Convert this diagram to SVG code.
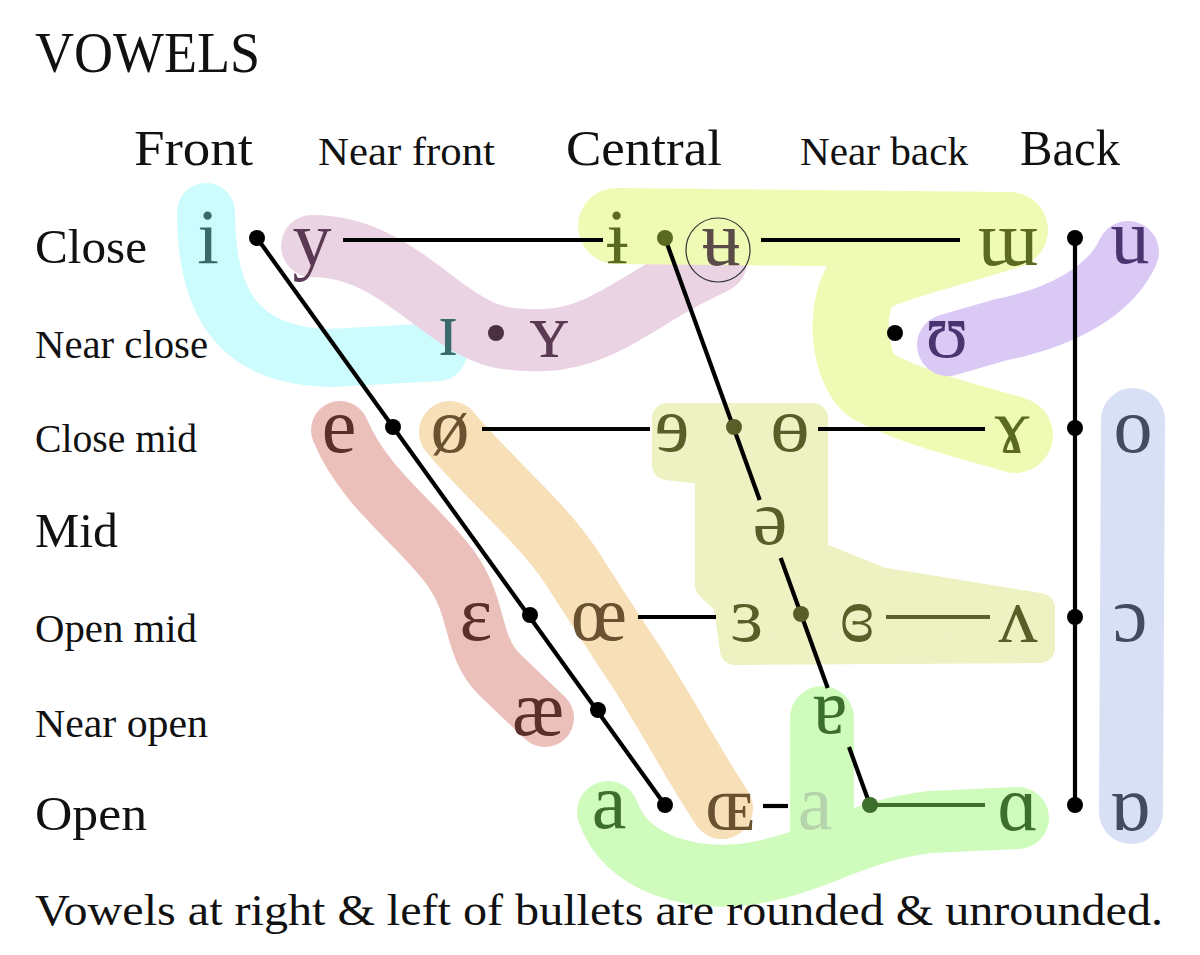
<svg xmlns="http://www.w3.org/2000/svg" width="1200" height="955" viewBox="0 0 1200 955">
<style>
  text { font-family: "Liberation Serif", "DejaVu Serif", serif; fill: #111; }
  .title { font-size: 56px; }
  .hd { font-size: 50px; }
  .hs { font-size: 39px; }
  .rl { font-size: 48px; }
  .rs { font-size: 40px; }
  .foot { font-size: 45px; }
  .v { font-size: 78px; text-anchor: middle; }
  .hl { fill: none; stroke-linecap: round; stroke-linejoin: round; }
  .ln { stroke: #000; stroke-width: 4.2; fill: none; stroke-linecap: butt; }
  .dot { fill: #000; }
  .teal { fill: #3a6a6a; }
  .pk { fill: #5a3a52; }
  .lime { fill: #5a6a20; }
  .pu { fill: #4a3570; }
  .sl { fill: #444b60; }
  .rd { fill: #5a2e2a; }
  .br { fill: #6a5230; }
  .kh { fill: #585e28; }
  .gr { fill: #3c6e2c; }
</style>

<g id="highlights">
  <path class="hl" stroke="#ccfcfd" stroke-width="58" d="M206,212 C206,300 235,356 330,358 L438,352"/>
  <path class="hl" stroke="#ead3e3" stroke-width="62" d="M312,246 C365,246 400,275 440,305 C480,335 500,342 545,340 C600,338 640,300 690,275 L716,262"/>
  <path class="hl" stroke="#effbb5" stroke-width="76" d="M616,226 L1010,230 C950,250 890,262 865,278 C845,300 845,360 870,385 C920,412 985,425 1015,435"/>
  <path class="hl" stroke="#dac9f5" stroke-width="62" d="M1128,252 C1110,292 1060,318 1000,330 L948,345"/>
  <path class="hl" stroke="#d8e0f6" stroke-width="64" d="M1133,420 L1131,812"/>
  <path class="hl" stroke="#ebbfba" stroke-width="58" d="M340,430 C365,490 420,525 452,570 C480,610 470,645 500,675 L545,718"/>
  <polygon fill="#eef1c2" stroke="#eef1c2" stroke-width="30" stroke-linejoin="round" points="667,418 813,418 813,555 880,582 1040,608 1040,648 735,650 728,602 710,585 710,470 667,465"/>
  <path class="hl" stroke="#cffcbd" stroke-width="62" d="M608,812 C625,862 690,885 760,872 C820,860 860,830 930,822 L1018,818"/>
  <path class="hl" stroke="#cffcbd" stroke-width="64" d="M822,718 L822,830"/>
  <path class="hl" stroke="#f7dfb8" stroke-width="62" d="M450,432 C485,475 540,520 570,565 L625,650 C660,700 690,760 722,808"/>
</g>

<g id="labels">
  <text class="title" x="35" y="72" textLength="225" lengthAdjust="spacingAndGlyphs">VOWELS</text>
  <text class="hd" x="134" y="165" textLength="119" lengthAdjust="spacingAndGlyphs">Front</text>
  <text class="hs" x="318" y="165" textLength="177" lengthAdjust="spacingAndGlyphs">Near front</text>
  <text class="hd" x="566" y="165" textLength="156" lengthAdjust="spacingAndGlyphs">Central</text>
  <text class="hs" x="800" y="165" textLength="168" lengthAdjust="spacingAndGlyphs">Near back</text>
  <text class="hd" x="1020" y="165" textLength="100" lengthAdjust="spacingAndGlyphs">Back</text>
  <text class="rl" x="35" y="263" textLength="112" lengthAdjust="spacingAndGlyphs">Close</text>
  <text class="rs" x="35" y="358" textLength="173" lengthAdjust="spacingAndGlyphs">Near close</text>
  <text class="rs" x="35" y="452" textLength="162" lengthAdjust="spacingAndGlyphs">Close mid</text>
  <text class="rl" x="35" y="547" textLength="83" lengthAdjust="spacingAndGlyphs">Mid</text>
  <text class="rs" x="35" y="642" textLength="162" lengthAdjust="spacingAndGlyphs">Open mid</text>
  <text class="rs" x="35" y="737" textLength="173" lengthAdjust="spacingAndGlyphs">Near open</text>
  <text class="rl" x="35" y="830" textLength="112" lengthAdjust="spacingAndGlyphs">Open</text>
  <text class="foot" x="35" y="925" textLength="1128" lengthAdjust="spacingAndGlyphs">Vowels at right &amp; left of bullets are rounded &amp; unrounded.</text>
</g>

<g id="connectors">
  <line class="ln" x1="257" y1="238" x2="665" y2="805"/>
  <line class="ln" x1="665" y1="238" x2="759.7" y2="500"/>
  <line class="ln" x1="780.7" y1="558" x2="827.7" y2="688"/>
  <line class="ln" x1="849" y1="747" x2="870" y2="805"/>
  <line class="ln" x1="1075" y1="238" x2="1075" y2="805"/>
  <line class="ln" x1="343" y1="240" x2="603" y2="240"/>
  <line class="ln" x1="761" y1="240" x2="960" y2="240"/>
  <line class="ln" x1="482" y1="429" x2="650" y2="429"/>
  <line class="ln" x1="818" y1="429" x2="985" y2="429"/>
  <line class="ln" x1="638" y1="617" x2="716" y2="617"/>
  <line class="ln" x1="886" y1="617" x2="990" y2="617" style="stroke:#5a6030"/>
  <line class="ln" x1="763" y1="806" x2="788" y2="806"/>
  <line class="ln" x1="870" y1="805" x2="985" y2="805" style="stroke:#3c6e2c"/>
</g>

<g id="bullets">
  <circle class="dot" cx="257" cy="238" r="8"/>
  <circle class="dot" cx="665" cy="238" r="8" style="fill:#5a6a20"/>
  <circle class="dot" cx="1075" cy="238" r="8"/>
  <circle class="dot" cx="496" cy="333" r="8" style="fill:#4a3040"/>
  <circle class="dot" cx="895" cy="333" r="8"/>
  <circle class="dot" cx="393" cy="427" r="8"/>
  <circle class="dot" cx="734" cy="427" r="8" style="fill:#585e28"/>
  <circle class="dot" cx="1075" cy="428" r="8"/>
  <circle class="dot" cx="530" cy="615" r="8"/>
  <circle class="dot" cx="801" cy="614" r="8" style="fill:#585e28"/>
  <circle class="dot" cx="1075" cy="617" r="8"/>
  <circle class="dot" cx="598" cy="710" r="8"/>
  <circle class="dot" cx="665" cy="805" r="8"/>
  <circle class="dot" cx="870" cy="805" r="8" style="fill:#3c6e2c"/>
  <circle class="dot" cx="1075" cy="805" r="8"/>
</g>

<g id="v-i"><text class="v teal" x="208" y="263">i</text></g>
<g id="v-y"><text class="v pk" x="312" y="265">y</text></g>
<g id="v-i-bar"><text class="v lime" x="617" y="263">ɨ</text></g>
<g id="v-u-bar"><text class="v" x="721" y="265" style="fill:#5a4a48">ʉ</text><circle cx="718" cy="250" r="32" fill="none" stroke="#333" stroke-width="1.2"/></g>
<g id="v-turned-m"><text class="v lime" x="1008" y="265">ɯ</text></g>
<g id="v-u"><text class="v pu" x="1130" y="263">u</text></g>
<g id="v-small-i"><text class="v teal" x="448" y="355">ɪ</text></g>
<g id="v-small-y"><text class="v pk" x="549" y="357">ʏ</text></g>
<g id="v-upsilon"><text class="v pu" x="947" y="357">ʊ</text></g>
<g id="v-e"><text class="v rd" x="339" y="452">e</text></g>
<g id="v-o-slash"><text class="v br" x="450" y="452">ø</text></g>
<g id="v-rev-e"><text class="v kh" x="672" y="451">ɘ</text></g>
<g id="v-barred-o"><text class="v kh" x="790" y="451">ɵ</text></g>
<g id="v-ram"><text class="v lime" x="1012" y="452">ɤ</text></g>
<g id="v-o"><text class="v sl" x="1133" y="452">o</text></g>
<g id="v-schwa"><text class="v kh" x="770" y="544">ə</text></g>
<g id="v-epsilon"><text class="v rd" x="476" y="640">ɛ</text></g>
<g id="v-oe"><text class="v br" x="599" y="640">œ</text></g>
<g id="v-rev-epsilon"><text class="v kh" x="747" y="641">ɜ</text></g>
<g id="v-closed-rev-epsilon"><text class="v kh" x="857" y="641">ɞ</text></g>
<g id="v-wedge"><text class="v kh" x="1018" y="642">ʌ</text></g>
<g id="v-open-o"><text class="v sl" x="1130" y="641">ɔ</text></g>
<g id="v-ae"><text class="v rd" x="538" y="735">æ</text></g>
<g id="v-turned-a"><text class="v gr" x="830" y="733">ɐ</text></g>
<g id="v-a"><text class="v gr" x="609" y="828">a</text></g>
<g id="v-small-oe"><text class="v br" x="730" y="830">ɶ</text></g>
<g id="v-a-pale"><text class="v" x="815" y="829" style="fill:#b5d4ab">a</text></g>
<g id="v-script-a"><text class="v gr" x="1018" y="830">ɑ</text></g>
<g id="v-turned-script-a"><text class="v sl" x="1130" y="830">ɒ</text></g>
</svg>
